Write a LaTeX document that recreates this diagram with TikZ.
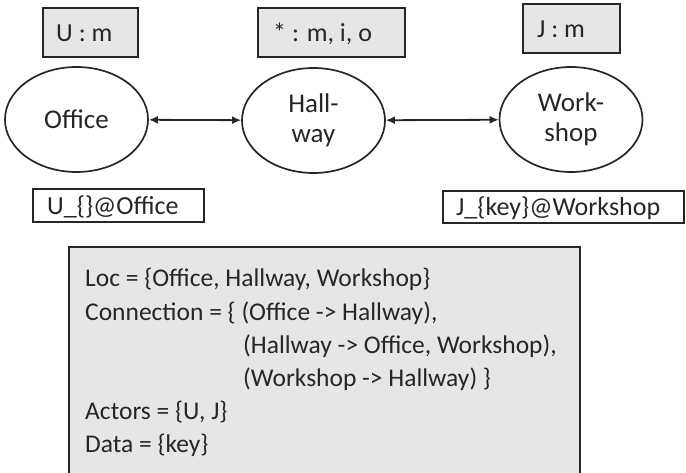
\documentclass[tikz,border=0pt]{standalone}
\usepackage{fontspec}
\setmainfont{Carlito}
\usetikzlibrary{arrows.meta,shapes.geometric}
\definecolor{boxfill}{HTML}{E6E6E6}
\definecolor{ink}{HTML}{262626}
\tikzset{
  lbl/.style={anchor=base west,inner sep=0pt,text=ink,font=\fontsize{26}{30}\selectfont},
  big/.style={anchor=base west,inner sep=0pt,text=ink,font=\fontsize{25.5}{30}\selectfont},
  loc/.style={draw=ink,line width=1.7pt,ellipse,minimum width=143pt,minimum height=105pt,inner sep=0pt,text=ink,align=center,font=\fontsize{27}{31}\selectfont},
  tagbox/.style={draw=ink,line width=1.8pt,fill=boxfill},
  posbox/.style={draw=ink,line width=1.8pt,fill=white},
  link/.style={line width=1.8pt,draw=ink,{Latex[length=9pt,width=8pt]}-{Latex[length=9pt,width=8pt]}}
}
\begin{document}
\begin{tikzpicture}[x=1pt,y=-1pt]
\useasboundingbox (0,0) rectangle (686,473);
% location nodes
\node[loc] (office) at (76.5,119.5) {Office};
\node[loc] (hall) at (313.5,120.5) {Hall-\\[-1pt]way};
\node[loc] (work) at (571,119.5) {Work-\\[-1pt]shop};
\draw[link] (office) -- (hall);
\draw[link] (hall) -- (work);
% tag boxes
\draw[tagbox] (43,8) rectangle (138,57);
\node[lbl] (tu) at (56,42) {U : m};
\draw[tagbox] (258,8) rectangle (405,57);
\node[lbl] (th) at (273,42) {* : m, i, o};
\draw[tagbox] (523,4) rectangle (620,53);
\node[lbl] (tj) at (537,38) {J : m};
% position boxes
\draw[posbox] (33,189) rectangle (204,222);
\node[lbl] (pu) at (47,215) {U\_\{\}@Office};
\draw[posbox] (443,191) rectangle (684,223);
\node[lbl] (pj) at (456,216) {J\_\{key\}@Workshop};
% definition box
\draw[tagbox] (69,247) rectangle (580,476);
\node[big] (l1) at (85,287) {Loc = \{Office, Hallway, Workshop\}};
\node[big] (l2) at (85,320) {Connection = \{ (Office -> Hallway),};
\node[big] (l3) at (243,353) {(Hallway -> Office, Workshop),};
\node[big] (l4) at (243,386) {(Workshop -> Hallway) \}};
\node[big] (l5) at (85,419) {Actors = \{U, J\}};
\node[big] (l6) at (85,452) {Data = \{key\}};
\end{tikzpicture}
\end{document}
